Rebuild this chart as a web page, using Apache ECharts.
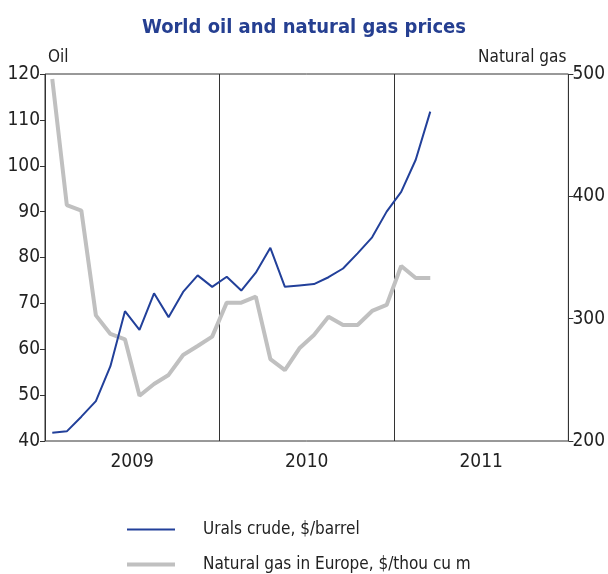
<!DOCTYPE html>
<html>
<head>
<meta charset="utf-8">
<script src="https://cdn.jsdelivr.net/npm/echarts@6/dist/echarts.min.js"></script>
<style>
  html, body { margin: 0; padding: 0; background: #fff; }
  #chart { width: 608px; height: 574px; }
</style>
</head>
<body>
<div id="chart"></div>
<script>
// years on the bottom axis, one label per year
var years = ['2009', '2010', '2011'];

// monthly values, Jan 2009 - Mar 2011
var urals = [41.8, 42.1, 45.3, 48.7, 56.3, 68.3, 64.2, 72.2, 67.0, 72.5, 76.1, 73.6,
             75.8, 72.8, 76.7, 82.1, 73.6, 73.9, 74.2, 75.7, 77.6, 80.9, 84.4, 90.0,
             94.3, 101.3, 111.8];
var gas = [495.9, 392.9, 388.3, 302.7, 287.5, 283.1, 237.0, 246.6, 254.0, 270.3, 277.7, 285.3,
           313.1, 313.1, 318.0, 267.0, 258.0, 275.8, 286.7, 301.6, 294.8, 294.8, 306.3, 311.2,
           343.1, 333.3, 333.3];

var font = '"DejaVu Sans Condensed", "Liberation Sans Narrow", sans-serif';
var blue = '#22409a';
var grey = '#c0c0c0';

// month index -> x position, centred in the month
function toPoints(arr) {
  return arr.map(function (v, i) { return [i + 0.5, v]; });
}

// one legend box per series so they stack as in the original
function legendAt(name, top, thick) {
  return {
    left: 122,
    top: top,
    icon: 'rect',
    itemWidth: 48,
    itemHeight: thick,
    textStyle: { fontFamily: font, fontSize: 17, color: '#222', padding: [0, 0, 0, 23] },
    data: [name]
  };
}

var chart = echarts.init(document.getElementById('chart'), null, { renderer: 'canvas' });

var option = {
  animation: false,
  title: {
    text: 'World oil and natural gas prices',
    left: 'center',
    top: 13,
    textStyle: { fontFamily: font, fontWeight: 'bold', fontSize: 20, color: '#253f91' }
  },
  grid: {
    left: 45, right: 37, top: 74, bottom: 133,
    show: true, borderColor: '#333', borderWidth: 1
  },
  legend: [
    legendAt('Urals crude, $/barrel', 516, 2),
    legendAt('Natural gas in Europe, $/thou cu m', 551, 4)
  ],
  xAxis: [
    {
      type: 'value', min: 0, max: 36, interval: 12,
      axisLine: { show: false }, axisTick: { show: false }, axisLabel: { show: false },
      splitLine: { show: true, lineStyle: { color: '#333', width: 1 } }
    },
    {
      type: 'category', data: years, position: 'bottom', boundaryGap: true,
      axisLine: { show: false }, axisTick: { show: false },
      axisLabel: { fontFamily: font, fontSize: 19, color: '#222', margin: 12 },
      splitLine: { show: false }
    }
  ],
  yAxis: [
    {
      type: 'value', min: 40, max: 120, interval: 10, position: 'left',
      name: 'Oil', nameLocation: 'end', nameGap: 8,
      nameTextStyle: { fontFamily: font, fontSize: 17, color: '#222', align: 'left', padding: [0, 0, 0, 3] },
      axisLine: { show: false },
      axisTick: { show: true, length: 5, lineStyle: { color: '#333' } },
      axisLabel: { fontFamily: font, fontSize: 19, color: '#222', margin: 5 },
      splitLine: { show: false }
    },
    {
      type: 'value', min: 200, max: 500, interval: 100, position: 'right',
      name: 'Natural gas', nameLocation: 'end', nameGap: 8,
      nameTextStyle: { fontFamily: font, fontSize: 17, color: '#222', align: 'right', padding: [0, 2, 0, 0] },
      axisLine: { show: false },
      axisTick: { show: true, length: 5, lineStyle: { color: '#333' } },
      axisLabel: { fontFamily: font, fontSize: 19, color: '#222', margin: 4 },
      splitLine: { show: false }
    }
  ],
  series: [
    {
      name: 'Natural gas in Europe, $/thou cu m',
      type: 'line', xAxisIndex: 0, yAxisIndex: 1,
      data: toPoints(gas), symbol: 'none',
      lineStyle: { color: grey, width: 4 }, itemStyle: { color: grey }
    },
    {
      name: 'Urals crude, $/barrel',
      type: 'line', xAxisIndex: 0, yAxisIndex: 0,
      data: toPoints(urals), symbol: 'none',
      lineStyle: { color: blue, width: 2 }, itemStyle: { color: blue }
    }
  ]
};

chart.setOption(option);
</script>
</body>
</html>
